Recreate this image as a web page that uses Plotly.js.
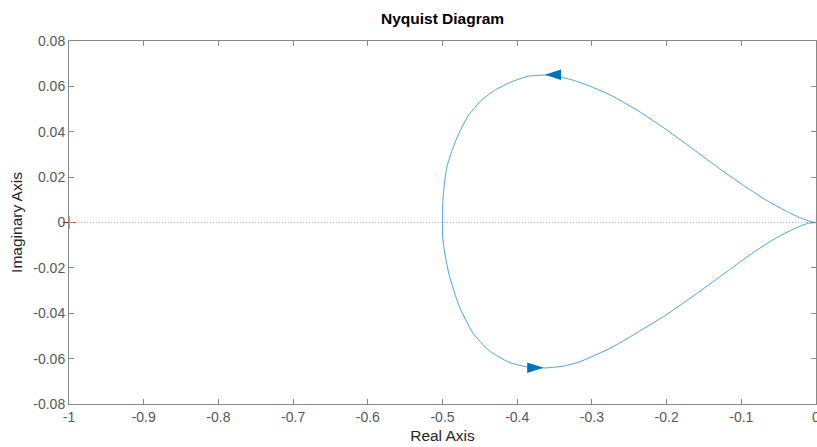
<!DOCTYPE html>
<html>
<head>
<meta charset="utf-8">
<script src="https://cdn.plot.ly/plotly-3.0.1.min.js"></script>
<style>html,body{margin:0;padding:0;background:#fff;}#chart{width:817px;height:447px;}</style>
</head>
<body>
<div id="chart"></div>
<script>
// Nyquist curve (real, imaginary), traversed from origin over the top, back along the bottom
const realPart = [0, -0.006, -0.019, -0.037, -0.064, -0.091, -0.129, -0.157, -0.175, -0.202, -0.238, -0.273, -0.304, -0.325, -0.344, -0.362, -0.385, -0.407, -0.429, -0.447, -0.465, -0.478, -0.487, -0.494, -0.498, -0.500, -0.500,
                  -0.500, -0.498, -0.491, -0.478, -0.460, -0.438, -0.411, -0.385, -0.362, -0.340, -0.318, -0.273, -0.202, -0.157, -0.117, -0.086, -0.055, -0.029, -0.011, 0];
const imagPart = [0, 0.0003, 0.0018, 0.0045, 0.0093, 0.0150, 0.0237, 0.0305, 0.0349, 0.0413, 0.0492, 0.0558, 0.0603, 0.0627, 0.0643, 0.0650, 0.0645, 0.0621, 0.0585, 0.0541, 0.0474, 0.0393, 0.0320, 0.0246, 0.0157, 0.0060, 0,
                  -0.0050, -0.0115, -0.0233, -0.0366, -0.0484, -0.0564, -0.0616, -0.0638, -0.0641, -0.0634, -0.0616, -0.0550, -0.0410, -0.0307, -0.0211, -0.0137, -0.0071, -0.0027, -0.0004, 0];
// direction arrows (tip positions)
const arrowReal = [-0.363, -0.365];
const arrowImag = [0.0651, -0.0640];
const arrowAngle = [-90, 90];
// critical point
const critReal = [-1];
const critImag = [0];
// zero reference line
const zeroLineReal = [-1, 0];
const zeroLineImag = [0, 0];
// axis ticks
const xTickVals = [-1, -0.9, -0.8, -0.7, -0.6, -0.5, -0.4, -0.3, -0.2, -0.1, 0];
const xTickText = ['-1', '-0.9', '-0.8', '-0.7', '-0.6', '-0.5', '-0.4', '-0.3', '-0.2', '-0.1', '0'];
const yTickVals = [0.08, 0.06, 0.04, 0.02, 0, -0.02, -0.04, -0.06, -0.08];
const yTickText = ['0.08', '0.06', '0.04', '0.02', '0', '-0.02', '-0.04', '-0.06', '-0.08'];

const FONT = 'Liberation Sans, Arial, Helvetica, sans-serif';

const traces = [
  {x: zeroLineReal, y: zeroLineImag, mode: 'lines', line: {color: '#b8b8b8', width: 1, dash: '1px,2px'}, hoverinfo: 'skip'},
  {x: realPart, y: imagPart, mode: 'lines', line: {color: '#4da2dd', width: 1, shape: 'spline', smoothing: 0.5}},
  {x: arrowReal, y: arrowImag, mode: 'markers', marker: {symbol: 'arrow', size: 17, angle: arrowAngle, color: '#0072bd', line: {width: 0}}},
  {x: critReal, y: critImag, mode: 'markers', cliponaxis: false, marker: {symbol: 'cross-thin', size: 9, line: {color: '#ff0000', width: 1}}}
];

const axisCommon = {
  showline: true, linecolor: '#8a8a8a', linewidth: 1, mirror: 'ticks',
  ticks: 'inside', ticklen: 5, tickcolor: '#8a8a8a', tickwidth: 1,
  showgrid: false, zeroline: false, ticklabeloverflow: 'allow',
  tickfont: {family: FONT, size: 14, color: '#595959'}
};

const layout = {
  width: 817, height: 447,
  margin: {l: 69, r: 1, t: 41, b: 43},
  paper_bgcolor: '#ffffff', plot_bgcolor: '#ffffff',
  showlegend: false,
  title: {text: '<b>Nyquist Diagram</b>', font: {family: FONT, size: 15.5, color: '#000000'}, x: 0.5417, xanchor: 'center', y: 0.958, yanchor: 'middle'},
  xaxis: Object.assign({}, axisCommon, {
    range: [-1, 0], tickmode: 'array', tickvals: xTickVals, ticktext: xTickText,
    title: {text: 'Real Axis', font: {family: FONT, size: 15.5, color: '#262626'}, standoff: 6}
  }),
  yaxis: Object.assign({}, axisCommon, {
    range: [-0.08, 0.08], tickmode: 'array', tickvals: yTickVals, ticktext: yTickText,
    title: {text: 'Imaginary Axis', font: {family: FONT, size: 15.5, color: '#262626'}, standoff: 6}
  })
};

Plotly.newPlot('chart', traces, layout, {displayModeBar: false, staticPlot: true});
</script>
</body>
</html>
